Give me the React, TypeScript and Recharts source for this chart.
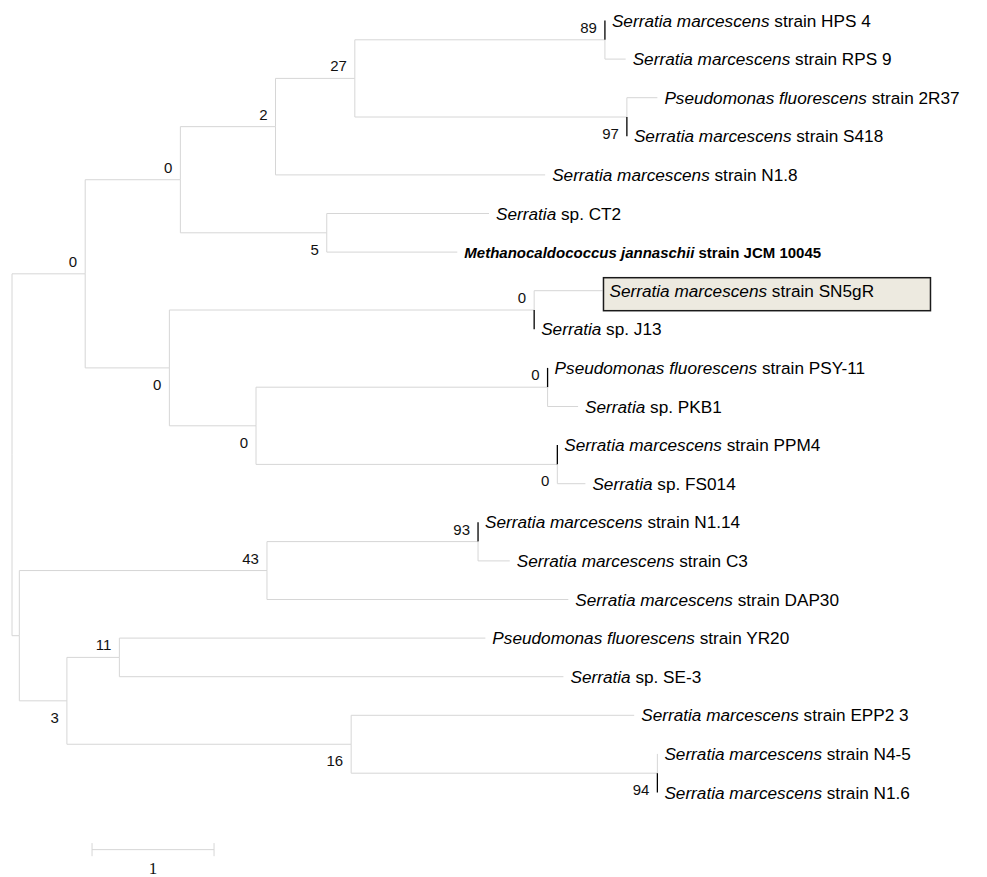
import React from "react";
import { ScatterChart, Scatter, XAxis, YAxis, ReferenceLine } from "recharts";

// leaves, top to bottom
const leafItalic = [
  "Serratia marcescens", "Serratia marcescens", "Pseudomonas fluorescens", "Serratia marcescens",
  "Serratia marcescens", "Serratia", "Methanocaldococcus jannaschii", "Serratia marcescens",
  "Serratia", "Pseudomonas fluorescens", "Serratia", "Serratia marcescens", "Serratia",
  "Serratia marcescens", "Serratia marcescens", "Serratia marcescens", "Pseudomonas fluorescens",
  "Serratia", "Serratia marcescens", "Serratia marcescens", "Serratia marcescens",
];
const leafPlain = [
  "strain HPS 4", "strain RPS 9", "strain 2R37", "strain S418", "strain N1.8", "sp. CT2",
  "strain JCM 10045", "strain SN5gR", "sp. J13", "strain PSY-11", "sp. PKB1", "strain PPM4",
  "sp. FS014", "strain N1.14", "strain C3", "strain DAP30", "strain YR20", "sp. SE-3",
  "strain EPP2 3", "strain N4-5", "strain N1.6",
];
const leafLengths = [
  0, 0.17, 0.25, 0, 2.21, 1.33, 1.07, 0.56, 0, 0, 0.25, 0, 0.23, 0, 0.26, 2.47, 3.0, 3.64, 2.32, 0, 0,
];
const blackLeaves = [0, 3, 8, 9, 11, 13, 20];
const boldLeaves = [6];
const boxedLeaves = [7];

// internal nodes: children are node ids or leaf indices
const nodeIds = ["root", "n1", "n2", "n3", "n4", "n5", "n6", "n7", "n8", "n9", "n10",
  "n11", "n12", "n13", "n14", "n15", "n16", "n17", "n18", "n19"];
const nodeChildren: (string | number)[][] = [
  ["n1", "n13"], ["n2", "n8"], ["n3", "n7"], ["n4", 4], ["n5", "n6"], [0, 1], [2, 3], [5, 6],
  ["n9", "n10"], [7, 8], ["n11", "n12"], [9, 10], [11, 12], ["n14", "n16"], ["n15", 15],
  [13, 14], ["n17", "n18"], [16, 17], [18, "n19"], [19, 20],
];
const nodeLengths = [0, 0.6, 0.78, 0.78, 0.65, 2.05, 2.23, 1.2, 0.69, 2.99, 0.71, 2.39, 2.47,
  0.06, 2.03, 1.73, 0.39, 0.43, 2.33, 2.51];
const nodeSupport: (number | null)[] = [null, 0, 0, 2, 27, 89, 97, 5, 0, 0, 0, 0, 0, null,
  43, 93, 3, 11, 16, 94];
const supportBelow = [false, false, false, false, false, false, true, true, true, false, true,
  false, true, false, false, false, true, false, true, true];

const scaleBarStart = 0.656;
const scaleBarLength = 1;
const scaleBarRow = 21.48;
const scaleBarLabel = "1";

type Seg = { x1: number; y1: number; x2: number; y2: number; black: boolean };
const segs: Seg[] = [];
const leafPoints: { x: number; y: number; i: number }[] = [];
const nodePoints: { x: number; y: number; k: number }[] = [];

function place(id: string | number, x0: number): { x: number; y: number } {
  if (typeof id === "number") {
    const x = x0 + leafLengths[id];
    if (leafLengths[id] > 0) segs.push({ x1: x0, y1: id, x2: x, y2: id, black: false });
    leafPoints.push({ x, y: id, i: id });
    return { x, y: id };
  }
  const k = nodeIds.indexOf(id);
  const x = x0 + nodeLengths[k];
  const kids = nodeChildren[k].map((c) => place(c, x));
  const y = (kids[0].y + kids[kids.length - 1].y) / 2;
  if (nodeLengths[k] > 0) segs.push({ x1: x0, y1: y, x2: x, y2: y, black: false });
  kids.forEach((c, j) => {
    const ch = nodeChildren[k][j];
    segs.push({ x1: x, y1: y, x2: x, y2: c.y, black: typeof ch === "number" && blackLeaves.includes(ch) });
  });
  if (nodeSupport[k] !== null) nodePoints.push({ x, y, k });
  return { x, y };
}
place("root", 0);

const sans = "'Liberation Sans', Arial, Helvetica, sans-serif";

const LeafLabel = (props: any) => {
  const { cx, cy, payload } = props;
  const i = payload.i;
  const bold = boldLeaves.includes(i);
  return (
    <g>
      {boxedLeaves.includes(i) && (
        <rect x={cx + 1} y={cy - 13} width={327} height={33} fill="#edeae0" stroke="#1a1a1a" strokeWidth={1.5} />
      )}
      <text x={cx + 7} y={cy + 6} fontFamily={sans} fontSize={bold ? 15 : 17.2} fill="#000"
        fontWeight={bold ? "bold" : "normal"} style={{ whiteSpace: "pre" }}>
        <tspan fontStyle="italic">{leafItalic[i]}</tspan>
        <tspan>{" " + leafPlain[i]}</tspan>
      </text>
    </g>
  );
};

const SupportLabel = (props: any) => {
  const { cx, cy, payload } = props;
  const k = payload.k;
  return (
    <text x={cx - 8} y={supportBelow[k] ? cy + 22 : cy - 7} textAnchor="end" fontFamily={sans} fontSize={15} fill="#111">
      {nodeSupport[k]}
    </text>
  );
};

const ScaleLabel = (props: any) => (
  <text x={props.cx} y={props.cy + 24} textAnchor="middle" fontFamily="'Liberation Serif', 'Times New Roman', serif" fontSize={17} fill="#111">
    {scaleBarLabel}
  </text>
);

export default function App() {
  return (
    <div style={{ position: "absolute", left: 0, top: 0 }}>
      <ScatterChart width={987} height={877} margin={{ top: 0, right: 0, bottom: 0, left: 0 }}>
        <XAxis type="number" dataKey="x" hide domain={[-12 / 122, 975 / 122]} allowDataOverflow />
        <YAxis type="number" dataKey="y" hide reversed domain={[-20.5 / 38.6, 856.5 / 38.6]} allowDataOverflow />
        {segs.map((s, j) => (
          <ReferenceLine key={j} segment={[{ x: s.x1, y: s.y1 }, { x: s.x2, y: s.y2 }]}
            stroke={s.black ? "#000" : "#d6d6d6"} strokeWidth={s.black ? 1.3 : 1} />
        ))}
        <ReferenceLine segment={[{ x: scaleBarStart, y: scaleBarRow }, { x: scaleBarStart + scaleBarLength, y: scaleBarRow }]} stroke="#d6d6d6" />
        <ReferenceLine segment={[{ x: scaleBarStart, y: scaleBarRow - 0.17 }, { x: scaleBarStart, y: scaleBarRow + 0.17 }]} stroke="#d6d6d6" />
        <ReferenceLine segment={[{ x: scaleBarStart + scaleBarLength, y: scaleBarRow - 0.17 }, { x: scaleBarStart + scaleBarLength, y: scaleBarRow + 0.17 }]} stroke="#d6d6d6" />
        <Scatter data={leafPoints} shape={LeafLabel} isAnimationActive={false} />
        <Scatter data={nodePoints} shape={SupportLabel} isAnimationActive={false} />
        <Scatter data={[{ x: scaleBarStart + scaleBarLength / 2, y: scaleBarRow }]} shape={ScaleLabel} isAnimationActive={false} />
      </ScatterChart>
    </div>
  );
}
